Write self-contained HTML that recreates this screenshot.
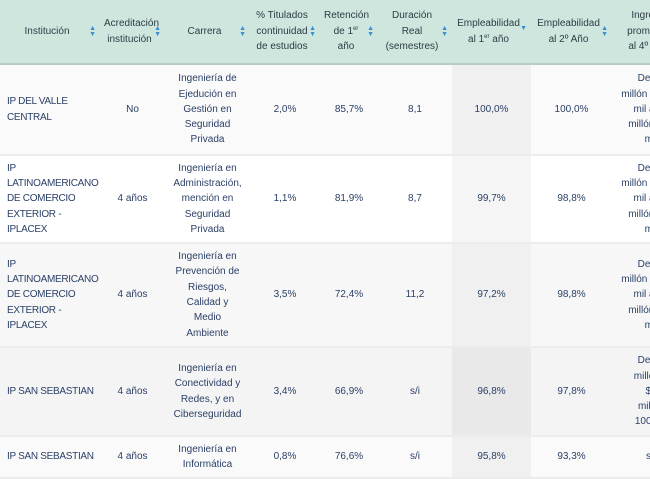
<!DOCTYPE html>
<html><head><meta charset="utf-8"><style>
*{margin:0;padding:0;box-sizing:border-box}
body{width:650px;height:479px;overflow:hidden;background:#fff;font-family:"Liberation Sans","DejaVu Sans",sans-serif;font-size:10px}
#w{position:absolute;left:0;top:0;width:650px;height:479px;overflow:hidden}
table{border-collapse:collapse;table-layout:fixed;width:690px}
th{background:#cfe6de;color:#2d3b45;font-weight:normal;height:64px;line-height:15.5px;text-align:center;position:relative;border-bottom:2px solid #b9cbc4;padding:0 10px 0 4px;white-space:nowrap}
th .s{position:absolute;right:4px;top:50%;margin-top:-6px;color:#3a8fd0;font-size:7px;line-height:6px}
td{color:#2a3f66;text-align:center;line-height:15.3px;border-bottom:2px solid #ececec;padding:0 2px;white-space:nowrap;overflow:hidden}
td.l{text-align:left;padding-left:7px;overflow:visible;letter-spacing:-0.3px}
tr.r1 td{height:91px;background:#fafafa}
tr.r2 td{height:88px;background:#fff}
tr.r3 td{height:104px;background:#f7f7f7}
tr.r4 td{height:89px;background:#f4f4f4}
tr.r5 td{height:42px;background:#fafafa}
td.g{background:#f0f0f0!important}
tr.r2 td.g{background:#f5f5f5!important}
tr.r4 td.g{background:#e9e9e9!important}
sup{font-size:6px;vertical-align:4px;line-height:0}
</style></head><body><div id="w">
<table>
<colgroup><col style="width:100px"><col style="width:65px"><col style="width:85px"><col style="width:70px"><col style="width:58px"><col style="width:74px"><col style="width:79px"><col style="width:81px"><col style="width:78px"></colgroup>
<tr>
<th>Institución<span class="s">▲<br>▼</span></th>
<th>Acreditación<br>institución<span class="s">▲<br>▼</span></th>
<th>Carrera<span class="s">▲<br>▼</span></th>
<th>% Titulados<br>continuidad<br>de estudios<span class="s">▲<br>▼</span></th>
<th>Retención<br>de 1<sup>er</sup><br>año<span class="s">▲<br>▼</span></th>
<th>Duración<br>Real<br>(semestres)<span class="s">▲<br>▼</span></th>
<th>Empleabilidad<br>al 1<sup>er</sup> año<span class="s">▼</span></th>
<th>Empleabilidad<br>al 2º Año<span class="s">▲<br>▼</span></th>
<th>Ingreso<br>promedio<br>al 4º año</th>
</tr>
<tr class="r1"><td class="l">IP DEL VALLE<br>CENTRAL</td><td>No</td><td>Ingeniería de<br>Ejedución en<br>Gestión en<br>Seguridad<br>Privada</td><td>2,0%</td><td>85,7%</td><td>8,1</td><td class="g">100,0%</td><td>100,0%</td><td>De $1<br>millón a $900<br>mil a $1<br>millón 100<br>mil</td></tr>
<tr class="r2"><td class="l">IP<br>LATINOAMERICANO<br>DE COMERCIO<br>EXTERIOR -<br>IPLACEX</td><td>4 años</td><td>Ingeniería en<br>Administración,<br>mención en<br>Seguridad<br>Privada</td><td>1,1%</td><td>81,9%</td><td>8,7</td><td class="g">99,7%</td><td>98,8%</td><td>De $1<br>millón a $900<br>mil a $1<br>millón 100<br>mil</td></tr>
<tr class="r3"><td class="l">IP<br>LATINOAMERICANO<br>DE COMERCIO<br>EXTERIOR -<br>IPLACEX</td><td>4 años</td><td>Ingeniería en<br>Prevención de<br>Riesgos,<br>Calidad y<br>Medio<br>Ambiente</td><td>3,5%</td><td>72,4%</td><td>11,2</td><td class="g">97,2%</td><td>98,8%</td><td>De $1<br>millón a $900<br>mil a $1<br>millón 100<br>mil</td></tr>
<tr class="r4"><td class="l">IP SAN SEBASTIAN</td><td>4 años</td><td>Ingeniería en<br>Conectividad y<br>Redes, y en<br>Ciberseguridad</td><td>3,4%</td><td>66,9%</td><td>s/i</td><td class="g">96,8%</td><td>97,8%</td><td>De $1<br>millon a<br>$2<br>millon<br>100 mil</td></tr>
<tr class="r5"><td class="l">IP SAN SEBASTIAN</td><td>4 años</td><td>Ingeniería en<br>Informática</td><td>0,8%</td><td>76,6%</td><td>s/i</td><td class="g">95,8%</td><td>93,3%</td><td>s/i</td></tr>
</table>
</div></body></html>
